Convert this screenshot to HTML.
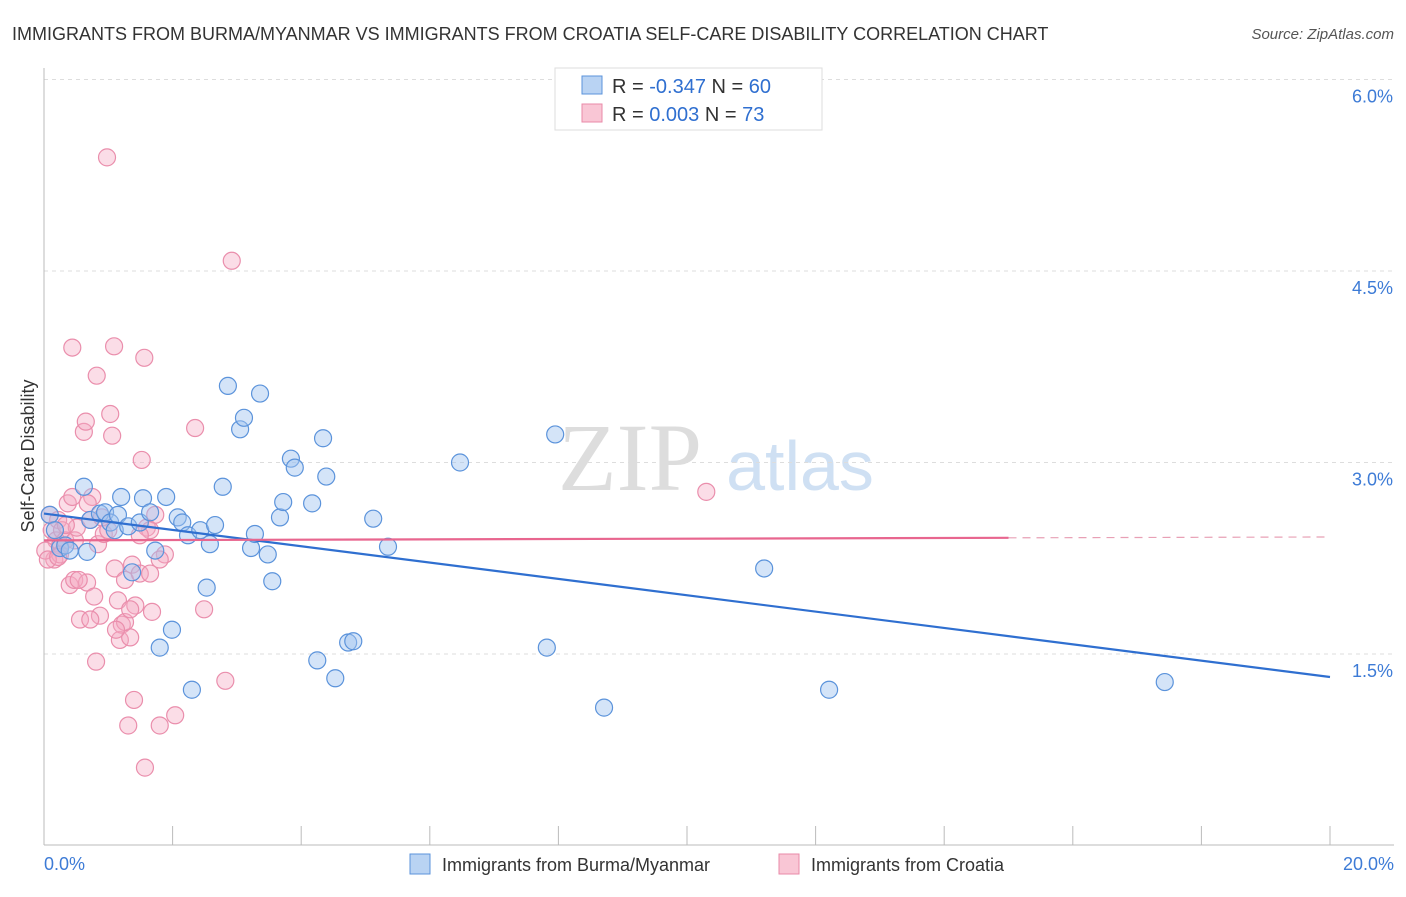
<!DOCTYPE html>
<html><head><meta charset="utf-8"><style>
body{margin:0;background:#fff;font-family:"Liberation Sans",sans-serif}
</style></head><body>
<svg id="c" width="1406" height="892" xmlns="http://www.w3.org/2000/svg">
<text x="12" y="40" font-size="18" fill="#333">IMMIGRANTS FROM BURMA/MYANMAR VS IMMIGRANTS FROM CROATIA SELF-CARE DISABILITY CORRELATION CHART</text>
<text x="1394" y="39" font-size="15" fill="#555" text-anchor="end" font-style="italic">Source: ZipAtlas.com</text>
<text x="630" y="490" font-size="96" fill="#ddd" font-family="Liberation Serif,serif" text-anchor="middle">ZIP</text>
<text x="800" y="490" font-size="70" fill="#cfe0f3" text-anchor="middle">atlas</text>
<g id="grid"></g><g id="axes"></g><g id="dots"></g><g id="lines"></g>
<text transform="translate(34,456) rotate(-90)" font-size="18" fill="#333" text-anchor="middle">Self-Care Disability</text>
<g>
<rect x="555" y="68" width="267" height="62" fill="#fff" stroke="#ddd"/>
<rect x="582" y="76" width="20" height="18" fill="#b9d3f3" stroke="#5b93db"/>
<rect x="582" y="104" width="20" height="18" fill="#f9c6d5" stroke="#e98aa8"/>
<text x="612" y="93" font-size="20" fill="#333">R = <tspan fill="#2f6fd0">-0.347</tspan>   N = <tspan fill="#2f6fd0">60</tspan></text>
<text x="612" y="121" font-size="20" fill="#333">R =  <tspan fill="#2f6fd0"> 0.003</tspan>   N =  <tspan fill="#2f6fd0">73</tspan></text>
</g>
<g>
<rect x="410" y="854" width="20" height="20" fill="#b9d3f3" stroke="#5b93db"/>
<text x="442" y="871" font-size="18" fill="#333">Immigrants from Burma/Myanmar</text>
<rect x="779" y="854" width="20" height="20" fill="#f9c6d5" stroke="#e98aa8"/>
<text x="811" y="871" font-size="18" fill="#333">Immigrants from Croatia</text>
</g>
</svg>
<script>
const yTicks=[1.5,3.0,4.5,6.0];
const yTickLabels=["1.5%","3.0%","4.5%","6.0%"];
const xTicks=[0,2,4,6,8,10,12,14,16,18,20];
const xEndLabels=["0.0%","20.0%"];
const blueX=[.09,.17,.25,.33,.40,.62,.67,.72,.87,.95,1.03,1.10,1.15,1.20,1.31,1.37,1.49,1.54,1.65,1.73,1.80,1.90,1.99,2.08,2.15,2.24,2.30,2.43,2.53,2.58,2.66,2.78,2.86,3.05,3.11,3.22,3.28,3.36,3.48,3.55,3.67,3.72,3.84,3.90,4.17,4.25,4.34,4.39,4.53,4.73,4.81,5.12,5.35,6.47,7.82,7.95,8.71,11.20,12.21,17.43];
const blueY=[2.59,2.47,2.33,2.35,2.31,2.81,2.30,2.55,2.60,2.61,2.53,2.47,2.59,2.73,2.50,2.14,2.53,2.72,2.61,2.31,1.55,2.73,1.69,2.57,2.53,2.43,1.22,2.47,2.02,2.36,2.51,2.81,3.60,3.26,3.35,2.33,2.44,3.54,2.28,2.07,2.57,2.69,3.03,2.96,2.68,1.45,3.19,2.89,1.31,1.59,1.60,2.56,2.34,3.00,1.55,3.22,1.08,2.17,1.22,1.28];
const pinkX=[.09,.12,.16,.19,.22,.25,.28,.33,.37,.40,.44,.47,.48,.51,.56,.62,.65,.67,.72,.75,.78,.81,.82,.84,.87,.93,.98,1.00,1.03,1.06,1.09,1.10,1.15,1.18,1.21,1.26,1.31,1.34,1.37,1.40,1.42,1.49,1.52,1.56,1.57,1.60,1.65,1.68,1.73,1.80,1.88,2.04,2.35,2.49,2.82,2.92,10.30,.68,.25,.34,.54,.72,.90,1.26,1.65,.02,.06,.44,1.12,1.49,1.80,.22,1.34];
const pinkY=[2.59,2.47,2.24,2.39,2.55,2.35,2.47,2.39,2.68,2.04,3.90,2.08,2.39,2.49,1.77,3.24,3.32,2.06,2.55,2.73,1.95,1.44,3.68,2.36,1.80,2.44,5.39,2.47,3.38,3.21,3.91,2.17,1.92,1.61,1.73,2.08,0.94,1.63,2.20,1.14,1.88,2.13,3.02,3.82,0.61,2.49,2.13,1.83,2.59,0.94,2.28,1.02,3.27,1.85,1.29,4.58,2.77,2.68,2.28,2.51,2.08,1.77,2.57,1.75,2.47,2.31,2.24,2.73,1.69,2.43,2.24,2.26,1.85];
const blueTrend=[2.60,1.32];
const pinkTrend=[2.39,2.41];
const NS="http://www.w3.org/2000/svg";
const X0=44,X1=1330,Y0=845.5,YS=191.5/1.5;
const sx=v=>X0+(v/20)*(X1-X0), sy=v=>Y0-v*YS;
function mk(p,tag,a){const e=document.createElementNS(NS,tag);for(const k in a)e.setAttribute(k,a[k]);document.getElementById(p).appendChild(e);return e;}
yTicks.forEach((t,i)=>{
 const g=mk('grid','line',{x1:X0,x2:1394,y1:sy(t),y2:sy(t),stroke:'#ddd','stroke-dasharray':'4,4'});
 
 
 const tx=mk('grid','text',{x:1393,y:sy(t)+23,'font-size':18,fill:'#3d7bd6','text-anchor':'end'});
 tx.textContent=yTickLabels[i];
 
 
});
mk('grid','line',{x1:X0,x2:X0,y1:68,y2:845,stroke:'#bbb'});
mk('axes','line',{x1:X0,x2:1394,y1:845,y2:845,stroke:'#bbb'});
xTicks.forEach(t=>{
 const l=mk('axes','line',{x1:sx(t),x2:sx(t),y1:826,y2:845,stroke:'#bbb'});
 
 
});
[[0,'start',44],[20,'end',1394]].forEach((d,i)=>{
 const tx=mk('axes','text',{x:d[2],y:870,'font-size':18,fill:'#3d7bd6','text-anchor':d[1]});
 tx.textContent=xEndLabels[i];
 
 
});
pinkX.forEach((x,i)=>{
 const c=mk('dots','circle',{cx:sx(x),cy:sy(pinkY[i]),r:8.5,fill:'rgba(246,170,195,0.4)',stroke:'#ea8eac','stroke-width':1.2});
 
 
});
blueX.forEach((x,i)=>{
 const c=mk('dots','circle',{cx:sx(x),cy:sy(blueY[i]),r:8.5,fill:'rgba(160,196,240,0.45)',stroke:'#5b93db','stroke-width':1.2});
 
 
});
const bl=mk('lines','line',{x1:sx(0),y1:sy(blueTrend[0]),x2:sx(20),y2:sy(blueTrend[1]),stroke:'#2f6fd0','stroke-width':2.2});


const ps=(pinkTrend[1]-pinkTrend[0])/15;
const pl=mk('lines','line',{x1:sx(0),y1:sy(pinkTrend[0]),x2:sx(15),y2:sy(pinkTrend[1]),stroke:'#e8668f','stroke-width':2.2});


const pd=mk('lines','line',{x1:sx(15),y1:sy(pinkTrend[1]),x2:sx(20),y2:sy(pinkTrend[0]+ps*20),stroke:'#e8a0b5','stroke-width':1.2,'stroke-dasharray':'8,6'});


</script>
</body></html>
